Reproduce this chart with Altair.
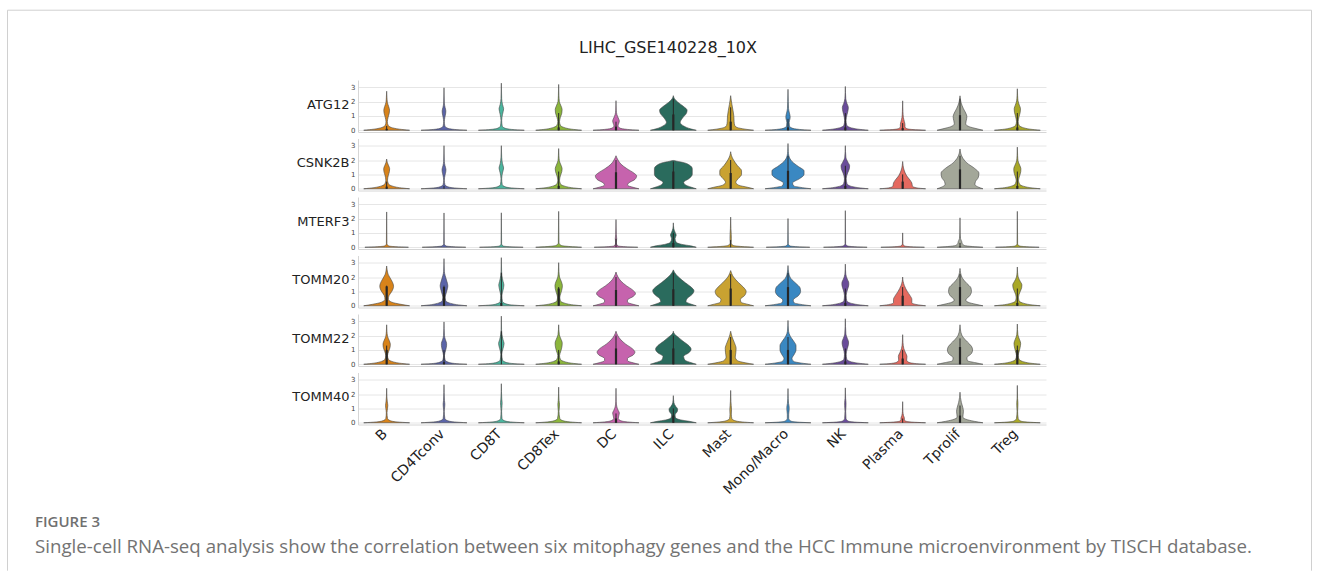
import altair as alt
import pandas as pd

TITLE = "LIHC_GSE140228_10X"
CAPTION_HEAD = "FIGURE 3"
CAPTION_TEXT = ("Single-cell RNA-seq analysis show the correlation between six mitophagy genes "
                "and the HCC Immune microenvironment by TISCH database.")

GENES = ["ATG12", "CSNK2B", "MTERF3", "TOMM20", "TOMM22", "TOMM40"]
CELLS = ["B", "CD4Tconv", "CD8T", "CD8Tex", "DC", "ILC", "Mast", "Mono/Macro",
         "NK", "Plasma", "Tprolif", "Treg"]
COLORS = ["#d8831a", "#5b64a8", "#4bb59e", "#8cb63c", "#c663ad", "#2a6b5d",
          "#c9a231", "#3a88c2", "#6a4c9a", "#e5695f", "#a3a799", "#a9a827"]
Y_TICKS = [0, 1, 2, 3]

# violin outlines: (expression level, half width as share of a category slot)
ATG12_VIOLINS = [
    [(0, .4), (.08, .22), (.2, .08), (.35, .025), (.6, .012), (.9, .025), (1.2, .045), (1.4, .05), (1.65, .035), (1.95, .012), (2.3, .005), (2.72, 0)],
    [(0, .4), (.06, .18), (.15, .06), (.3, .015), (.6, .006), (.9, .015), (1.2, .03), (1.35, .032), (1.6, .018), (1.9, .006), (2.96, 0)],
    [(0, .4), (.06, .18), (.15, .06), (.3, .015), (.7, .006), (1.1, .02), (1.5, .04), (1.8, .02), (2.2, .006), (3.28, 0)],
    [(0, .4), (.08, .22), (.2, .09), (.35, .03), (.6, .015), (.9, .03), (1.2, .055), (1.45, .06), (1.7, .04), (2.0, .012), (2.4, .005), (3.19, 0)],
    [(0, .4), (.06, .2), (.15, .07), (.3, .035), (.5, .05), (.65, .058), (.85, .04), (1.1, .015), (1.4, .005), (2.06, 0)],
    [(0, .4), (.1, .3), (.3, .18), (.55, .12), (.85, .16), (1.2, .23), (1.4, .24), (1.65, .18), (1.95, .08), (2.2, .02), (2.41, 0)],
    [(0, .4), (.08, .25), (.2, .11), (.35, .07), (.6, .06), (1.0, .055), (1.4, .04), (1.8, .022), (2.1, .01), (2.41, 0)],
    [(0, .4), (.06, .2), (.15, .07), (.3, .025), (.55, .02), (.8, .035), (.95, .038), (1.2, .025), (1.5, .01), (2.0, .005), (2.85, 0)],
    [(0, .4), (.08, .22), (.2, .08), (.35, .025), (.7, .012), (1.1, .03), (1.45, .05), (1.6, .052), (1.85, .03), (2.2, .008), (3.05, 0)],
    [(0, .4), (.05, .18), (.12, .07), (.25, .04), (.4, .04), (.6, .03), (.9, .012), (1.3, .005), (2.05, 0)],
    [(0, .4), (.1, .3), (.25, .16), (.45, .1), (.7, .11), (.95, .12), (1.2, .1), (1.5, .06), (1.9, .02), (2.4, 0)],
    [(0, .4), (.08, .22), (.2, .09), (.35, .03), (.6, .015), (.95, .03), (1.25, .05), (1.5, .055), (1.75, .035), (2.05, .012), (2.4, .005), (2.89, 0)],
]
CSNK2B_VIOLINS = [
    [(0, .4), (.08, .22), (.2, .09), (.35, .03), (.6, .015), (.95, .03), (1.2, .048), (1.4, .052), (1.6, .035), (1.85, .01), (2.07, 0)],
    [(0, .4), (.06, .18), (.15, .06), (.3, .015), (.6, .006), (.95, .018), (1.2, .032), (1.35, .034), (1.6, .018), (1.9, .006), (3.0, 0)],
    [(0, .4), (.06, .18), (.15, .06), (.3, .015), (.7, .006), (1.1, .02), (1.45, .04), (1.75, .02), (2.2, .006), (3.0, 0)],
    [(0, .4), (.08, .22), (.2, .09), (.35, .03), (.6, .015), (.9, .03), (1.2, .055), (1.4, .06), (1.65, .04), (1.95, .012), (2.3, .005), (2.8, 0)],
    [(0, .4), (.1, .3), (.25, .2), (.4, .22), (.65, .33), (.9, .36), (1.1, .31), (1.4, .19), (1.7, .09), (2.0, .035), (2.3, 0)],
    [(0, .4), (.1, .32), (.3, .2), (.45, .18), (.7, .27), (1.0, .33), (1.4, .33), (1.65, .28), (1.8, .2), (1.92, .06), (1.97, 0)],
    [(0, .4), (.1, .3), (.25, .14), (.45, .09), (.7, .13), (1.0, .19), (1.25, .19), (1.6, .12), (2.0, .05), (2.3, .015), (2.58, 0)],
    [(0, .4), (.08, .25), (.2, .1), (.4, .08), (.7, .2), (1.0, .28), (1.25, .28), (1.55, .18), (1.9, .07), (2.3, .015), (2.6, .005), (3.15, 0)],
    [(0, .4), (.08, .22), (.2, .08), (.35, .03), (.7, .015), (1.1, .04), (1.4, .07), (1.6, .075), (1.85, .045), (2.2, .01), (3.0, 0)],
    [(0, .4), (.06, .25), (.18, .17), (.4, .16), (.6, .13), (.9, .07), (1.3, .025), (1.6, .008), (1.9, 0)],
    [(0, .4), (.1, .33), (.3, .26), (.5, .27), (.8, .32), (1.1, .33), (1.4, .26), (1.8, .12), (2.2, .04), (2.77, 0)],
    [(0, .4), (.08, .22), (.2, .09), (.35, .035), (.6, .02), (.9, .04), (1.2, .06), (1.4, .062), (1.65, .04), (1.95, .012), (2.3, .005), (2.9, 0)],
]
MTERF3_VIOLINS = [
    [(0, .38), (.04, .16), (.1, .03), (.25, .005), (2.46, 0)],
    [(0, .38), (.04, .16), (.1, .03), (.25, .005), (2.39, 0)],
    [(0, .38), (.04, .14), (.1, .025), (.25, .005), (2.4, 0)],
    [(0, .4), (.05, .2), (.12, .05), (.3, .006), (2.5, 0)],
    [(0, .38), (.04, .16), (.1, .03), (.3, .006), (.6, .012), (.9, .006), (1.93, 0)],
    [(0, .4), (.1, .3), (.2, .15), (.35, .05), (.6, .03), (.85, .05), (1.05, .03), (1.3, .008), (1.7, 0)],
    [(0, .4), (.05, .2), (.12, .05), (.3, .008), (.6, .012), (.9, .01), (1.3, .005), (2.1, 0)],
    [(0, .38), (.04, .16), (.1, .03), (.25, .005), (2.0, 0)],
    [(0, .38), (.04, .16), (.1, .03), (.25, .005), (2.55, 0)],
    [(0, .38), (.04, .14), (.1, .025), (.25, .005), (1.0, 0)],
    [(0, .4), (.05, .22), (.12, .08), (.25, .04), (.4, .03), (.6, .01), (1.0, .004), (2.05, 0)],
    [(0, .38), (.04, .16), (.1, .03), (.25, .005), (2.5, 0)],
]
TOMM20_VIOLINS = [
    [(0, .4), (.1, .25), (.25, .09), (.45, .03), (.7, .04), (1.0, .09), (1.35, .12), (1.5, .115), (1.8, .08), (2.2, .025), (2.5, .008), (2.77, 0)],
    [(0, .4), (.08, .22), (.2, .09), (.35, .03), (.6, .02), (.9, .04), (1.2, .06), (1.4, .067), (1.7, .05), (2.1, .02), (2.4, .006), (3.28, 0)],
    [(0, .4), (.06, .18), (.15, .07), (.3, .02), (.7, .01), (1.1, .03), (1.45, .045), (1.7, .03), (2.1, .01), (2.4, .005), (3.35, 0)],
    [(0, .4), (.08, .22), (.2, .09), (.35, .03), (.6, .02), (.9, .04), (1.2, .06), (1.4, .065), (1.7, .045), (2.0, .015), (2.4, .005), (3.0, 0)],
    [(0, .4), (.1, .3), (.25, .2), (.4, .2), (.65, .3), (.85, .34), (1.1, .29), (1.4, .18), (1.7, .09), (2.0, .035), (2.35, 0)],
    [(0, .4), (.1, .32), (.3, .22), (.5, .24), (.8, .33), (1.05, .36), (1.3, .31), (1.6, .21), (2.0, .09), (2.3, .025), (2.5, 0)],
    [(0, .4), (.1, .3), (.25, .18), (.45, .17), (.7, .24), (1.0, .27), (1.3, .22), (1.6, .14), (2.0, .05), (2.45, 0)],
    [(0, .4), (.08, .25), (.2, .11), (.4, .09), (.7, .18), (1.0, .22), (1.25, .21), (1.55, .14), (1.9, .05), (2.3, .012), (2.8, 0)],
    [(0, .4), (.08, .22), (.2, .08), (.35, .025), (.7, .015), (1.1, .035), (1.45, .06), (1.6, .06), (1.85, .035), (2.2, .008), (2.9, 0)],
    [(0, .4), (.08, .25), (.2, .16), (.45, .16), (.7, .13), (1.0, .08), (1.4, .03), (1.7, .008), (2.0, 0)],
    [(0, .4), (.1, .28), (.25, .14), (.4, .1), (.7, .17), (1.0, .2), (1.25, .19), (1.55, .12), (1.9, .045), (2.3, .01), (2.6, 0)],
    [(0, .4), (.08, .22), (.2, .09), (.35, .03), (.6, .02), (.95, .045), (1.25, .075), (1.45, .08), (1.7, .05), (2.0, .015), (2.3, .005), (2.7, 0)],
]
TOMM22_VIOLINS = [
    [(0, .4), (.08, .22), (.2, .09), (.35, .03), (.6, .015), (.9, .035), (1.2, .06), (1.4, .064), (1.65, .045), (1.95, .015), (2.3, .005), (2.75, 0)],
    [(0, .4), (.06, .18), (.15, .07), (.3, .02), (.6, .008), (1.0, .03), (1.3, .045), (1.45, .045), (1.7, .025), (2.0, .008), (2.95, 0)],
    [(0, .4), (.06, .18), (.15, .07), (.3, .02), (.7, .008), (1.1, .03), (1.45, .048), (1.7, .03), (2.1, .01), (2.4, .004), (3.35, 0)],
    [(0, .4), (.08, .22), (.2, .09), (.35, .03), (.6, .015), (.95, .04), (1.3, .06), (1.5, .062), (1.75, .04), (2.05, .012), (2.75, 0)],
    [(0, .4), (.1, .3), (.25, .2), (.4, .2), (.65, .3), (.85, .33), (1.1, .28), (1.4, .17), (1.7, .085), (2.0, .03), (2.3, 0)],
    [(0, .4), (.1, .32), (.3, .2), (.55, .18), (.8, .27), (1.05, .31), (1.3, .27), (1.6, .17), (1.9, .08), (2.1, .02), (2.3, 0)],
    [(0, .4), (.1, .26), (.25, .12), (.5, .08), (.8, .09), (1.1, .095), (1.5, .065), (1.9, .025), (2.3, 0)],
    [(0, .4), (.08, .24), (.2, .1), (.4, .07), (.7, .11), (1.0, .14), (1.3, .14), (1.6, .1), (1.95, .04), (2.3, .01), (3.05, 0)],
    [(0, .4), (.08, .22), (.2, .08), (.35, .025), (.7, .015), (1.1, .035), (1.4, .055), (1.55, .056), (1.8, .035), (2.1, .01), (3.17, 0)],
    [(0, .4), (.06, .2), (.15, .1), (.3, .07), (.55, .075), (.8, .05), (1.1, .02), (1.5, .006), (2.06, 0)],
    [(0, .4), (.1, .28), (.25, .13), (.45, .12), (.75, .2), (1.0, .22), (1.25, .2), (1.55, .13), (1.9, .05), (2.3, .012), (2.75, 0)],
    [(0, .4), (.08, .22), (.2, .09), (.35, .03), (.6, .015), (.95, .035), (1.3, .055), (1.47, .058), (1.75, .035), (2.05, .01), (2.8, 0)],
]
TOMM40_VIOLINS = [
    [(0, .4), (.06, .18), (.15, .06), (.3, .015), (.7, .006), (1.0, .015), (1.2, .02), (1.45, .012), (1.8, .004), (2.4, 0)],
    [(0, .4), (.06, .18), (.15, .06), (.3, .015), (.8, .005), (1.1, .012), (1.3, .015), (1.55, .008), (2.65, 0)],
    [(0, .4), (.06, .16), (.15, .05), (.3, .012), (.8, .005), (1.2, .012), (1.4, .014), (1.65, .008), (2.72, 0)],
    [(0, .4), (.06, .2), (.15, .07), (.3, .02), (.8, .006), (1.1, .012), (1.3, .014), (1.55, .007), (2.48, 0)],
    [(0, .4), (.06, .2), (.15, .08), (.3, .04), (.5, .05), (.68, .058), (.85, .04), (1.1, .015), (1.5, .004), (2.4, 0)],
    [(0, .4), (.1, .28), (.2, .13), (.35, .04), (.55, .03), (.8, .07), (.95, .075), (1.15, .04), (1.4, .01), (1.89, 0)],
    [(0, .4), (.06, .2), (.15, .07), (.3, .02), (.6, .012), (.9, .015), (1.2, .01), (1.5, .005), (2.25, 0)],
    [(0, .4), (.05, .16), (.12, .05), (.3, .012), (.6, .012), (.9, .02), (1.1, .02), (1.35, .01), (1.7, .004), (2.38, 0)],
    [(0, .4), (.05, .16), (.12, .05), (.3, .012), (.8, .006), (1.2, .012), (1.4, .012), (1.7, .005), (2.43, 0)],
    [(0, .4), (.05, .16), (.12, .05), (.2, .03), (.32, .03), (.5, .015), (.8, .004), (1.47, 0)],
    [(0, .4), (.1, .25), (.25, .1), (.4, .05), (.6, .055), (.8, .06), (1.05, .05), (1.4, .025), (1.75, .008), (2.13, 0)],
    [(0, .4), (.05, .18), (.12, .06), (.3, .015), (.8, .005), (1.2, .01), (1.4, .01), (1.7, .004), (2.6, 0)],
]

# inner box: upper quartile (thick bar) and whisker top (thin line)
ATG12_Q3 = [0.1, 0, 0, 0.2, 0.25, 1.1, 0.6, 0.2, 0.2, 0.15, 1.05, 0.2]
ATG12_WHISK = [0.3, 0, 0, 1.2, 0.6, 2.2, 1.6, 0.8, 1.2, 0.5, 2.2, 1.2]
CSNK2B_Q3 = [0.15, 0, 0, 0.2, 1.15, 1.2, 1.1, 1.25, 0.2, 0.5, 1.35, 0.2]
CSNK2B_WHISK = [0.5, 0.2, 0, 1.2, 2.0, 1.9, 2.0, 2.3, 1.6, 1.0, 2.3, 1.2]
MTERF3_Q3 = [0, 0, 0, 0, 0, 0.3, 0, 0, 0, 0, 0.05, 0]
MTERF3_WHISK = [0, 0, 0, 0, 0.6, 1.0, 0.5, 0, 0, 0, 0.3, 0]
TOMM20_Q3 = [1.35, 1.3, 0.2, 1.2, 1.1, 1.15, 1.2, 1.3, 0.2, 0.7, 1.3, 0.2]
TOMM20_WHISK = [1.4, 1.4, 2.3, 1.3, 2.0, 2.3, 2.2, 2.3, 1.2, 1.3, 2.2, 1.2]
TOMM22_Q3 = [1.0, 0.15, 0, 0.2, 1.1, 1.1, 1.0, 1.0, 0.2, 0.4, 1.2, 1.0]
TOMM22_WHISK = [1.3, 1.0, 2.3, 1.0, 2.0, 2.0, 1.9, 1.9, 1.1, 1.0, 1.8, 1.3]
TOMM40_Q3 = [0, 0, 0, 0, 0.3, 0.5, 0, 0, 0, 0, 0.5, 0]
TOMM40_WHISK = [0, 0, 0, 0, 0.65, 1.0, 0, 0, 0, 0.3, 1.2, 0]

VIOLINS = dict(zip(GENES, [ATG12_VIOLINS, CSNK2B_VIOLINS, MTERF3_VIOLINS,
                           TOMM20_VIOLINS, TOMM22_VIOLINS, TOMM40_VIOLINS]))
Q3 = dict(zip(GENES, [ATG12_Q3, CSNK2B_Q3, MTERF3_Q3, TOMM20_Q3, TOMM22_Q3, TOMM40_Q3]))
WHISK = dict(zip(GENES, [ATG12_WHISK, CSNK2B_WHISK, MTERF3_WHISK,
                         TOMM20_WHISK, TOMM22_WHISK, TOMM40_WHISK]))

vrows, brows = [], []
for g in GENES:
    for i, cell in enumerate(CELLS):
        for y, w in VIOLINS[g][i]:
            vrows.append(dict(gene=g, cell=cell, idx=i, y=y, lo=i - w, hi=i + w))
        brows.append(dict(gene=g, cell=cell, idx=i, base=0.0, q3=Q3[g][i], wh=WHISK[g][i]))
vdf = pd.DataFrame(vrows)
bdf = pd.DataFrame(brows)

PANEL_W, PANEL_H, GAP = 688, 52, 6.5
LABEL_EXPR = "[" + ",".join("'%s'" % c for c in CELLS) + "][datum.value]"

xs = alt.Scale(domain=[-0.5, 11.5], nice=False, zero=False)
ys = alt.Scale(domain=[-0.12, 3.5], nice=False, zero=False)
cs = alt.Scale(domain=CELLS, range=COLORS)

# pixel offsets of page decorations relative to panel origins
P_LEFT = 358.0
P_TOP0 = 79.3
P_TOP_LAST = P_TOP0 + (len(GENES) - 1) * (PANEL_H + GAP)


def panel(k, g):
    last = k == len(GENES) - 1
    x_axis = alt.Axis(values=list(range(len(CELLS))), labelExpr=LABEL_EXPR, labels=last,
                      labelAngle=-45, labelAlign="right", labelBaseline="top",
                      labelOverlap=False, labelFont="DejaVu Sans", labelFontSize=14,
                      labelColor="#222222", labelPadding=2, labelOffset=-7, ticks=False,
                      grid=False, domainColor="#d6d6d6", title=None)
    y_axis = alt.Axis(values=Y_TICKS, format="d", title=g, titleAngle=0, titleAlign="right",
                      titleBaseline="middle", titleX=-9, titleY=24, titleFont="DejaVu Sans",
                      titleFontSize=13, titleFontWeight="normal", titleColor="#222222",
                      labelFont="DejaVu Sans", labelFontSize=7, labelColor="#444444",
                      labelPadding=3, ticks=False, gridColor="#e6e6e6", domainColor="#d6d6d6")
    gv = vdf[vdf.gene == g]
    gb = bdf[bdf.gene == g]
    area = alt.Chart(gv).mark_area(orient="horizontal", interpolate="monotone",
                                   stroke="#474747", strokeWidth=0.6, opacity=1).encode(
        y=alt.Y("y:Q", scale=ys, axis=y_axis),
        x=alt.X("lo:Q", scale=xs, axis=x_axis, stack=None),
        x2="hi:Q",
        color=alt.Color("cell:N", scale=cs, legend=None),
    )
    whisk = alt.Chart(gb[gb.wh > 0]).mark_rule(color="#262626", strokeWidth=1).encode(
        x=alt.X("idx:Q", scale=xs, axis=x_axis),
        y=alt.Y("base:Q", scale=ys, axis=y_axis),
        y2="wh:Q",
    )
    box = alt.Chart(gb[gb.q3 > 0]).mark_rule(color="#262626", strokeWidth=2.2).encode(
        x=alt.X("idx:Q", scale=xs, axis=x_axis),
        y=alt.Y("base:Q", scale=ys, axis=y_axis),
        y2="q3:Q",
    )
    layers = [area, whisk, box]
    if k == 0:
        layers.append(alt.Chart(pd.DataFrame({"t": [TITLE]})).mark_text(
            font="DejaVu Sans", fontSize=16, color="#222222", align="center", baseline="middle"
        ).encode(text="t:N", x=alt.value(668 - P_LEFT), y=alt.value(47 - P_TOP0)))
    if last:
        one = pd.DataFrame({"t": [CAPTION_HEAD], "d": [CAPTION_TEXT]})
        layers.append(alt.Chart(one).mark_text(
            font="Open Sans", fontSize=15, fontWeight=600, color="#707070", align="left",
            baseline="alphabetic").encode(text="t:N", x=alt.value(35 - P_LEFT),
                                          y=alt.value(526 - P_TOP_LAST)))
        layers.append(alt.Chart(one).mark_text(
            font="Open Sans", fontSize=18.7, color="#737373", align="left",
            baseline="alphabetic").encode(text="d:N", x=alt.value(35 - P_LEFT),
                                          y=alt.value(552 - P_TOP_LAST)))
        fl, fr, ft, fb = 7.5 - P_LEFT, 1311.5 - P_LEFT, 9.5 - P_TOP_LAST, 570 - P_TOP_LAST
        frame = alt.Chart(one)
        layers += [
            frame.mark_rule(color="#d0d0d0", strokeWidth=1).encode(
                x=alt.value(fl), y=alt.value(ft), y2=alt.value(fb)),
            frame.mark_rule(color="#d0d0d0", strokeWidth=1).encode(
                x=alt.value(fr), y=alt.value(ft), y2=alt.value(fb)),
            frame.mark_rule(color="#d0d0d0", strokeWidth=1).encode(
                x=alt.value(fl), x2=alt.value(fr), y=alt.value(ft)),
        ]
    return alt.layer(*layers).properties(width=PANEL_W, height=PANEL_H)


chart = alt.vconcat(*[panel(k, g) for k, g in enumerate(GENES)], spacing=GAP,
                    bounds="flush").properties(
    padding={"left": 7, "top": 9, "right": 7, "bottom": 0},
    background="white",
).configure_view(stroke=None)

chart.save("out.html", embed_options={"renderer": "svg", "actions": False})
